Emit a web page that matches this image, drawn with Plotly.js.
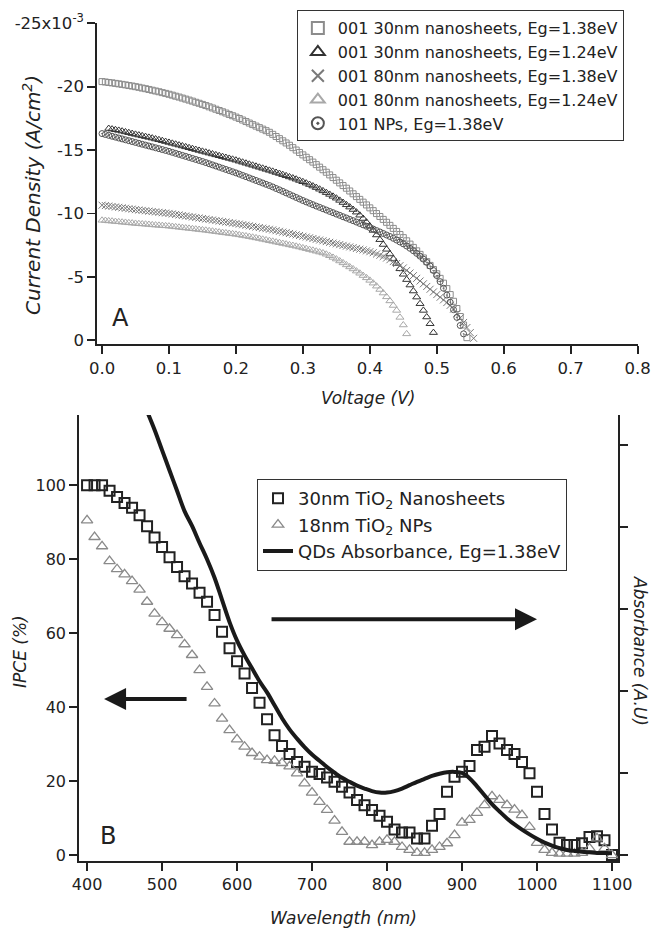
<!DOCTYPE html>
<html>
<head>
<meta charset="utf-8">
<script src="https://cdn.plot.ly/plotly-3.0.1.min.js"></script>
<style>
html,body{margin:0;padding:0;background:#fff;}
#chart{width:651px;height:929px;}
</style>
</head>
<body>
<div id="chart"></div>
<script>
// ---------- Panel A : J-V curves (current density in units of 1e-3 A/cm^2) ----------
const voltageGrid = [0,0.005,0.01,0.015,0.02,0.025,0.03,0.035,0.04,0.045,0.05,0.055,0.06,0.065,0.07,0.075,0.08,0.085,0.09,0.095,
  0.1,0.105,0.11,0.115,0.12,0.125,0.13,0.135,0.14,0.145,0.15,0.155,0.16,0.165,0.17,0.175,0.18,0.185,0.19,0.195,
  0.2,0.205,0.21,0.215,0.22,0.225,0.23,0.235,0.24,0.245,0.25,0.255,0.26,0.265,0.27,0.275,0.28,0.285,0.29,0.295,
  0.3,0.305,0.31,0.315,0.32,0.325,0.33,0.335,0.34,0.345,0.35,0.355,0.36,0.365,0.37,0.375,0.38,0.385,0.39,0.395,
  0.4,0.405,0.41,0.415,0.42,0.425,0.43,0.435,0.44,0.445,0.45,0.455,0.46,0.465,0.47,0.475,0.48,0.485,0.49,0.495,
  0.5,0.505,0.51,0.515,0.52,0.525,0.53,0.535,0.54,0.545,0.55,0.555];

const seriesNames = [
  "001 30nm nanosheets, Eg=1.38eV",
  "001 30nm nanosheets, Eg=1.24eV",
  "001 80nm nanosheets, Eg=1.38eV",
  "001 80nm nanosheets, Eg=1.24eV",
  "101 NPs, Eg=1.38eV"
];

// 001 30nm, Eg=1.38eV : 0.000 .. 0.545 V
const vSheet30Eg138 = voltageGrid.slice(0,110);
const jSheet30Eg138 = [-20.4,-20.37,-20.33,-20.3,-20.26,-20.22,-20.18,-20.14,-20.09,-20.05,
  -20.0,-19.95,-19.89,-19.84,-19.78,-19.72,-19.66,-19.6,-19.53,-19.47,
  -19.4,-19.33,-19.25,-19.18,-19.1,-19.02,-18.94,-18.86,-18.77,-18.69,
  -18.6,-18.51,-18.41,-18.32,-18.22,-18.12,-18.02,-17.92,-17.81,-17.71,
  -17.6,-17.49,-17.37,-17.25,-17.13,-17.01,-16.89,-16.77,-16.65,-16.53,
  -16.4,-16.24,-16.07,-15.9,-15.73,-15.56,-15.38,-15.19,-15.0,-14.81,
  -14.62,-14.43,-14.24,-14.05,-13.85,-13.65,-13.45,-13.25,-13.04,-12.83,
  -12.62,-12.41,-12.2,-11.99,-11.77,-11.55,-11.33,-11.11,-10.89,-10.67,
  -10.44,-10.22,-9.99,-9.76,-9.53,-9.3,-9.06,-8.82,-8.58,-8.34,
  -8.09,-7.84,-7.58,-7.32,-7.05,-6.77,-6.49,-6.2,-5.9,-5.58,
  -5.24,-4.88,-4.5,-4.07,-3.6,-3.07,-2.5,-1.87,-1.2,-0.2];

// 001 30nm, Eg=1.24eV : 0.010 .. 0.495 V
const vSheet30Eg124 = voltageGrid.slice(2,100);
const jSheet30Eg124 = [-16.7,-16.65,-16.6,-16.55,-16.49,-16.43,-16.37,-16.3,
  -16.24,-16.18,-16.12,-16.06,-16.0,-15.94,-15.87,-15.81,-15.74,-15.67,
  -15.6,-15.53,-15.46,-15.39,-15.32,-15.25,-15.18,-15.11,-15.04,-14.97,
  -14.9,-14.83,-14.76,-14.69,-14.62,-14.55,-14.48,-14.41,-14.34,-14.27,
  -14.2,-14.12,-14.04,-13.96,-13.88,-13.8,-13.72,-13.64,-13.56,-13.48,
  -13.4,-13.32,-13.23,-13.15,-13.06,-12.97,-12.88,-12.79,-12.7,-12.6,
  -12.5,-12.39,-12.28,-12.16,-12.04,-11.91,-11.78,-11.64,-11.5,-11.35,
  -11.2,-11.03,-10.86,-10.68,-10.5,-10.31,-10.1,-9.86,-9.6,-9.31,
  -9.0,-8.66,-8.3,-7.93,-7.55,-7.17,-6.8,-6.43,-6.05,-5.63,
  -5.2,-4.78,-4.35,-3.88,-3.4,-2.88,-2.35,-1.83,-1.3,-0.6];

// 001 80nm, Eg=1.38eV : 0.000 .. 0.555 V
const vSheet80Eg138 = voltageGrid.slice(0,112);
const jSheet80Eg138 = [-10.65,-10.62,-10.58,-10.55,-10.51,-10.48,-10.44,-10.41,-10.37,-10.34,
  -10.3,-10.27,-10.24,-10.21,-10.18,-10.15,-10.12,-10.09,-10.06,-10.03,
  -10.0,-9.96,-9.92,-9.88,-9.84,-9.8,-9.76,-9.72,-9.68,-9.64,
  -9.6,-9.56,-9.52,-9.48,-9.44,-9.4,-9.36,-9.32,-9.28,-9.24,
  -9.2,-9.16,-9.11,-9.07,-9.02,-8.98,-8.93,-8.89,-8.84,-8.8,
  -8.75,-8.7,-8.64,-8.59,-8.53,-8.48,-8.42,-8.37,-8.31,-8.26,
  -8.2,-8.14,-8.08,-8.02,-7.96,-7.9,-7.84,-7.78,-7.72,-7.66,
  -7.6,-7.54,-7.48,-7.42,-7.36,-7.3,-7.24,-7.18,-7.12,-7.05,
  -6.98,-6.9,-6.8,-6.7,-6.6,-6.48,-6.35,-6.2,-6.05,-5.88,
  -5.7,-5.5,-5.3,-5.09,-4.88,-4.67,-4.45,-4.24,-4.02,-3.81,
  -3.6,-3.39,-3.18,-2.97,-2.75,-2.45,-2.1,-1.76,-1.4,-1.0,
  -0.6,-0.15];

// 001 80nm, Eg=1.24eV : 0.000 .. 0.455 V
const vSheet80Eg124 = voltageGrid.slice(0,92);
const jSheet80Eg124 = [-9.46,-9.44,-9.41,-9.39,-9.36,-9.34,-9.31,-9.29,-9.26,-9.24,
  -9.21,-9.19,-9.17,-9.15,-9.13,-9.1,-9.08,-9.06,-9.04,-9.02,
  -9.0,-8.97,-8.94,-8.91,-8.88,-8.85,-8.82,-8.79,-8.76,-8.73,
  -8.7,-8.67,-8.63,-8.6,-8.56,-8.53,-8.49,-8.46,-8.42,-8.39,
  -8.35,-8.31,-8.26,-8.22,-8.17,-8.12,-8.07,-8.02,-7.96,-7.91,
  -7.85,-7.8,-7.74,-7.69,-7.63,-7.58,-7.52,-7.47,-7.41,-7.35,
  -7.28,-7.22,-7.15,-7.09,-7.02,-6.95,-6.88,-6.78,-6.66,-6.53,
  -6.4,-6.25,-6.1,-5.94,-5.78,-5.62,-5.45,-5.28,-5.1,-4.92,
  -4.72,-4.5,-4.26,-4.0,-3.72,-3.42,-3.1,-2.74,-2.35,-1.8,
  -1.2,-0.5];

// 101 NPs, Eg=1.38eV : 0.000 .. 0.540 V
const vNPsEg138 = voltageGrid.slice(0,109);
const jNPsEg138 = [-16.3,-16.23,-16.16,-16.09,-16.02,-15.95,-15.88,-15.81,-15.74,-15.67,
  -15.6,-15.53,-15.46,-15.39,-15.32,-15.25,-15.18,-15.11,-15.04,-14.97,
  -14.9,-14.82,-14.74,-14.66,-14.58,-14.5,-14.42,-14.34,-14.26,-14.18,
  -14.1,-14.01,-13.92,-13.83,-13.74,-13.65,-13.56,-13.47,-13.38,-13.29,
  -13.2,-13.1,-13.0,-12.9,-12.8,-12.7,-12.6,-12.5,-12.4,-12.3,
  -12.2,-12.09,-11.97,-11.86,-11.74,-11.62,-11.5,-11.38,-11.26,-11.14,
  -11.02,-10.91,-10.8,-10.69,-10.58,-10.48,-10.37,-10.27,-10.16,-10.06,
  -9.95,-9.85,-9.74,-9.64,-9.53,-9.43,-9.32,-9.21,-9.1,-8.99,
  -8.88,-8.77,-8.65,-8.54,-8.42,-8.3,-8.18,-8.04,-7.9,-7.75,
  -7.6,-7.43,-7.25,-7.06,-6.85,-6.63,-6.4,-6.14,-5.85,-5.5,
  -5.1,-4.62,-4.1,-3.56,-3.0,-2.41,-1.8,-1.16,-0.5];

const voltageTicks = [0,0.1,0.2,0.3,0.4,0.5,0.6,0.7,0.8];
const voltageTickText = ["0.0","0.1","0.2","0.3","0.4","0.5","0.6","0.7","0.8"];
const currentTicks = [0,-5,-10,-15,-20,-25];
const currentTickText = ["0","-5","-10","-15","-20","-25x10<sup>-3</sup>"];

// ---------- Panel B : IPCE and absorbance ----------
const wavelength = [400,410,420,430,440,450,460,470,480,490,500,510,520,530,540,550,560,570,580,590,600,610,620,630,640,650,660,670,680,690,700,710,720,730,740,750,760,770,780,790,800,810,820,830,840,850,860,870,880,890,900,910,920,930,940,950,960,970,980,990,1000,1010,1020,1030,1040,1050,1060,1070,1080,1090,1100];

const ipceNanosheets = [100,100,100,98.5,96.8,95.2,93.9,91.9,88.9,85.9,
  83.3,80.5,77.9,75.4,73.4,70.9,68.5,64.9,60.4,55.9,
  52.4,49.1,45.2,41.2,36.7,32.4,29.5,27.3,25.2,23.9,
  22.5,21.9,21.0,19.8,18.5,16.9,14.9,13.5,12.2,10.6,
  9.0,6.9,6.1,6.1,4.5,4.5,7.9,11.1,17.1,21.2,
  22.5,24.1,28.4,29.3,32.2,30.2,28.4,27.3,25.2,22.1,
  17.1,11.1,6.9,3.3,2.7,2.7,3.2,4.9,5.1,4.0,0];

const ipceNPs = [90.5,86,83.5,79.5,77.3,75.9,74.1,71.8,68.5,65.3,
  63.0,61.2,59.5,57.0,54.1,50.0,45.5,41.0,36.9,33.8,
  31.3,29.3,27.6,26.6,25.7,25.5,24.9,24.0,22.1,19.4,
  16.9,14.4,12.2,9.3,6.3,3.6,3.6,3.6,2.7,3.6,
  4.1,3.6,2.2,1.4,0.6,0.6,1.4,2.2,3.2,5.4,
  8.8,9.5,11.4,13.5,15.9,14.9,13.5,12.3,10.8,7.6,
  3.3,1.4,0.6,0.4,0.4,0.4,0.6,1.8,4.5,1.8,0];

const absWavelength = [480,490,500,510,520,530,540,550,560,570,580,590,600,610,620,630,640,650,660,670,680,690,700,710,720,730,740,750,760,770,780,790,800,810,820,830,840,850,860,870,880,890,900,910,920,930,940,950,960,970,980,990,1000,1010,1020,1030,1040,1050,1060,1070,1080,1090,1100];
const absorbance = [5.415,5.190,4.941,4.693,4.445,4.197,4.016,3.808,3.610,3.384,
  3.114,2.843,2.617,2.437,2.279,2.121,1.986,1.828,1.670,1.534,
  1.421,1.318,1.227,1.151,1.074,1.006,0.943,0.894,0.848,0.812,
  0.781,0.763,0.763,0.781,0.812,0.853,0.894,0.930,0.966,0.993,
  1.011,1.015,1.002,0.939,0.839,0.731,0.623,0.532,0.447,0.375,
  0.311,0.253,0.199,0.153,0.117,0.086,0.063,0.050,0.041,0.034,
  0.027,0.025,0.023];

const wavelengthTicks = [400,500,600,700,800,900,1000,1100];
const ipceTicks = [0,20,40,60,80,100];
const absTicks = [0,1,2,3,4,5];
const legendB = ["30nm TiO<sub>2</sub> Nanosheets","18nm TiO<sub>2</sub> NPs","QDs Absorbance, Eg=1.38eV"];

// ---------- traces ----------
const FONT = "DejaVu Sans, Arial, sans-serif";
const INK = "#222";

const traces = [
  {x:vSheet30Eg138, y:jSheet30Eg138, name:seriesNames[0], type:"scatter", mode:"markers",
   xaxis:"x", yaxis:"y", legend:"legend",
   marker:{symbol:"square-open", size:6, color:"#8c8c8c", line:{width:1}}},
  {x:vSheet30Eg124, y:jSheet30Eg124, name:seriesNames[1], type:"scatter", mode:"markers",
   xaxis:"x", yaxis:"y", legend:"legend",
   marker:{symbol:"triangle-up-open", size:7, color:"#333", line:{width:1}}},
  {x:vSheet80Eg138, y:jSheet80Eg138, name:seriesNames[2], type:"scatter", mode:"markers",
   xaxis:"x", yaxis:"y", legend:"legend",
   marker:{symbol:"x-thin-open", size:7, color:"#7a7a7a", line:{width:1}}},
  {x:vSheet80Eg124, y:jSheet80Eg124, name:seriesNames[3], type:"scatter", mode:"markers",
   xaxis:"x", yaxis:"y", legend:"legend",
   marker:{symbol:"triangle-up-open", size:7, color:"#a8a8a8", line:{width:1}}},
  {x:vNPsEg138, y:jNPsEg138, name:seriesNames[4], type:"scatter", mode:"markers",
   xaxis:"x", yaxis:"y", legend:"legend",
   marker:{symbol:"circle-open-dot", size:6, color:"#555", line:{width:1}}},

  {x:wavelength, y:ipceNanosheets, name:legendB[0], type:"scatter", mode:"markers",
   xaxis:"x2", yaxis:"y2", legend:"legend2", cliponaxis:false,
   marker:{symbol:"square-open", size:10, color:"#222", line:{width:2}}},
  {x:wavelength, y:ipceNPs, name:legendB[1], type:"scatter", mode:"markers",
   xaxis:"x2", yaxis:"y2", legend:"legend2", cliponaxis:false,
   marker:{symbol:"triangle-up-open", size:10, color:"#8a8a8a", line:{width:1.3}}},
  {x:absWavelength, y:absorbance, name:legendB[2], type:"scatter", mode:"lines",
   xaxis:"x2", yaxis:"y3", legend:"legend2",
   line:{color:"#1a1a1a", width:4, shape:"spline"}}
];

function axisBase(){
  return {showline:true, linecolor:INK, linewidth:1.8, ticks:"outside", ticklen:8,
          tickwidth:1.8, tickcolor:INK, showgrid:false, zeroline:false,
          tickfont:{family:FONT, size:16.5, color:INK}, fixedrange:true};
}

function label(x, y, text, angle, size){
  return {xref:"paper", yref:"paper", x:x/651, y:1-y/929, text:text, textangle:angle||0,
          xanchor:"center", yanchor:"middle", showarrow:false,
          font:{family:FONT, size:size||17, color:INK}};
}

const layout = {
  width:651, height:929, margin:{l:0,r:0,t:0,b:0},
  paper_bgcolor:"#fff", plot_bgcolor:"rgba(0,0,0,0)",
  font:{family:FONT, color:INK},
  xaxis:Object.assign(axisBase(), {domain:[0.149,0.980], range:[-0.0075,0.8005],
    tickvals:voltageTicks, ticktext:voltageTickText, anchor:"y"}),
  yaxis:Object.assign(axisBase(), {domain:[0.6297,0.9752], range:[0.3,-25.02],
    tickvals:currentTicks, ticktext:currentTickText, anchor:"x"}),
  xaxis2:Object.assign(axisBase(), {domain:[0.1214,0.9493], range:[389.3,1108],
    tickvals:wavelengthTicks, anchor:"y2", tickfont:{family:FONT,size:16,color:INK}}),
  yaxis2:Object.assign(axisBase(), {domain:[0.0732,0.5533], range:[-1.6,119],
    tickvals:ipceTicks, anchor:"x2", tickfont:{family:FONT,size:16,color:INK}}),
  yaxis3:Object.assign(axisBase(), {overlaying:"y2", side:"right", anchor:"x2",
    range:[-0.072,5.37], tickvals:absTicks, showticklabels:false}),
  legend:{x:0.456, y:0.989, xanchor:"left", yanchor:"top", bgcolor:"#fff",
    bordercolor:"#333", borderwidth:1, font:{family:FONT,size:16,color:INK},
    itemsizing:"constant", tracegroupgap:0},
  legend2:{x:0.3948, y:0.4844, xanchor:"left", yanchor:"top", bgcolor:"#fff",
    bordercolor:"#333", borderwidth:1, font:{family:FONT,size:18,color:INK},
    tracegroupgap:0},
  showlegend:true,
  annotations:[
    label(32, 195, "<i>Current Density (A/cm<sup>2</sup>)</i>", -90, 20),
    label(368, 398, "<i>Voltage (V)</i>", 0, 17),
    label(20, 652, "<i>IPCE (%)</i>", -90, 17),
    label(640, 651, "<i>Absorbance (A.U)</i>", 90, 17),
    label(343, 918, "<i>Wavelength (nm)</i>", 0, 17),
    {xref:"x", yref:"y", x:0.028, y:-1.73, text:"A", showarrow:false,
     xanchor:"center", yanchor:"middle", font:{family:FONT,size:24,color:INK}},
    {xref:"x2", yref:"y2", x:428, y:5.1, text:"B", showarrow:false,
     xanchor:"center", yanchor:"middle", font:{family:FONT,size:24,color:INK}},
    {xref:"x2", yref:"y2", x:1000, y:63.8, axref:"x2", ayref:"y2", ax:644, ay:63.8,
     text:"", showarrow:true, arrowhead:2, arrowsize:1.1, arrowwidth:4, arrowcolor:"#1a1a1a"},
    {xref:"x2", yref:"y2", x:422.7, y:42.2, axref:"x2", ayref:"y2", ax:534.7, ay:42.2,
     text:"", showarrow:true, arrowhead:2, arrowsize:1.1, arrowwidth:4, arrowcolor:"#1a1a1a"}
  ]
};

Plotly.newPlot("chart", traces, layout, {staticPlot:true, displayModeBar:false});
</script>
</body>
</html>
